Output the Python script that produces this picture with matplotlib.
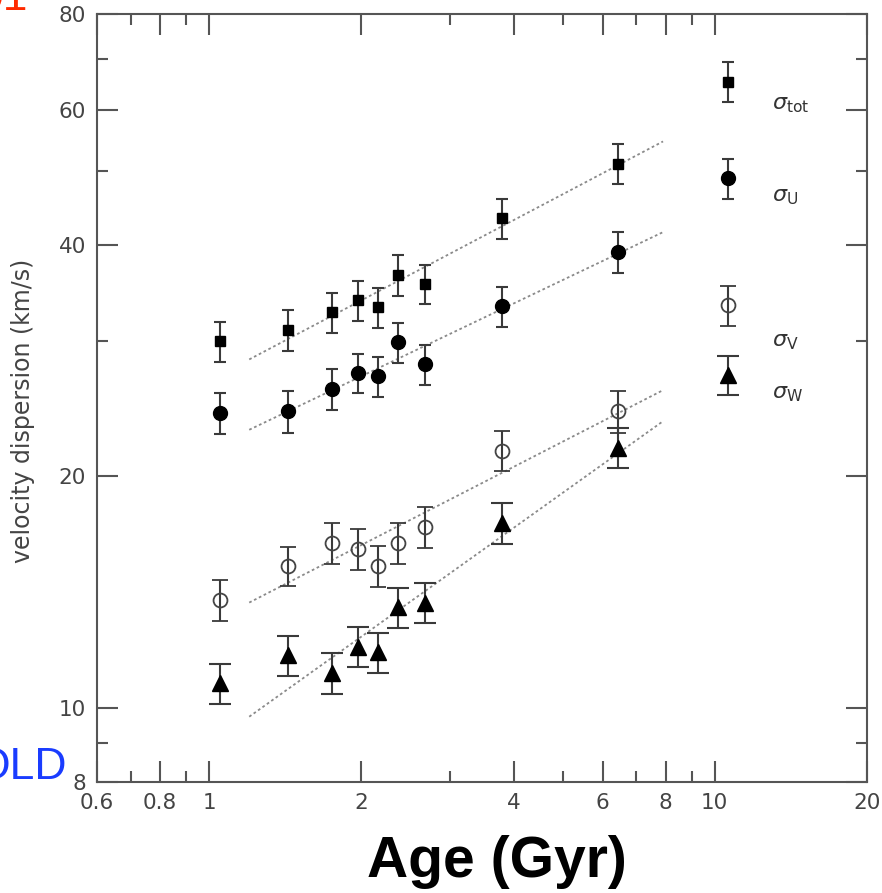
import numpy as np
import matplotlib
matplotlib.use("Agg")
import matplotlib.pyplot as plt
from matplotlib.ticker import FixedLocator, NullFormatter

# ages of the bins (Gyr)
age = [1.05, 1.43, 1.75, 1.97, 2.16, 2.36, 2.67, 3.79, 6.44]

# velocity dispersions (km/s) and their errors
sig_tot = [30.0, 31.0, 32.7, 33.9, 33.2, 36.6, 35.6, 43.4, 51.1]
err_tot = [1.8, 1.9, 2.0, 2.0, 2.0, 2.2, 2.1, 2.6, 3.1]
sig_u = [24.2, 24.3, 26.0, 27.3, 27.0, 29.9, 28.0, 33.3, 39.2]
err_u = [1.5, 1.5, 1.6, 1.6, 1.6, 1.8, 1.7, 2.0, 2.4]
sig_v = [13.8, 15.3, 16.4, 16.1, 15.3, 16.4, 17.2, 21.6, 24.3]
err_v = [0.85, 0.9, 1.0, 1.0, 0.95, 1.0, 1.05, 1.3, 1.5]
sig_w = [10.75, 11.7, 11.1, 12.0, 11.8, 13.5, 13.7, 17.4, 21.8]
err_w = [0.65, 0.7, 0.67, 0.72, 0.71, 0.8, 0.82, 1.05, 1.3]

# power-law fits (end points)
fit_age = [1.2, 7.9]
fit_tot = [28.4, 54.6]
fit_u = [23.0, 41.6]
fit_v = [13.7, 25.9]
fit_w = [9.73, 23.6]

# key symbols on the right
key_age = 10.6
key_val = [65.3, 48.9, 33.4, 27.1]
key_err = [3.9, 2.9, 2.0, 1.6]
key_text_age = 12.95
key_text_val = [60.9, 46.2, 29.9, 25.6]
key_labels = [r'$\sigma_{\rm tot}$', r'$\sigma_{\rm U}$', r'$\sigma_{\rm V}$', r'$\sigma_{\rm W}$']

xticks = [0.6, 0.8, 1, 2, 4, 6, 8, 10, 20]
xminor = [0.7, 0.9, 3, 5, 7, 9]
yticks = [8, 10, 20, 40, 60, 80]
yminor = [9, 30, 50, 70]

fig = plt.figure(figsize=(8.82, 8.93), dpi=100)
ax = fig.add_axes([0.110, 0.1243, 0.873, 0.860])
ax.set_xscale('log')
ax.set_yscale('log')
ax.set_xlim(0.6, 20)
ax.set_ylim(8, 80)

ebc = '#3a3a3a'
styles = [
    dict(marker='s', ms=6.5, mfc='black', mec='black', capsize=4.5),
    dict(marker='o', ms=10, mfc='black', mec='black', capsize=4.5),
    dict(marker='o', ms=10, mfc='none', mec='#444444', mew=1.3, capsize=6),
    dict(marker='^', ms=11, mfc='black', mec='black', capsize=8),
]
series = [(sig_tot, err_tot, fit_tot), (sig_u, err_u, fit_u),
          (sig_v, err_v, fit_v), (sig_w, err_w, fit_w)]

for (vals, errs, fit), st in zip(series, styles):
    ax.errorbar(age, vals, yerr=errs, ls='none', ecolor=ebc, elinewidth=1.5,
                capthick=1.5, zorder=3, **st)
    ax.plot(fit_age, fit, ls=(0, (1.5, 1.5)), color='#8a8a8a', lw=1.3, zorder=2)

for v, e, st in zip(key_val, key_err, styles):
    ax.errorbar([key_age], [v], yerr=[e], ls='none', ecolor=ebc, elinewidth=1.5,
                capthick=1.5, zorder=3, **st)

for v, lab in zip(key_text_val, key_labels):
    ax.text(key_text_age, v, lab, fontsize=16, color='#333333', va='center', ha='left')

ax.xaxis.set_major_locator(FixedLocator(xticks))
ax.xaxis.set_minor_locator(FixedLocator(xminor))
ax.yaxis.set_major_locator(FixedLocator(yticks))
ax.yaxis.set_minor_locator(FixedLocator(yminor))
ax.set_xticklabels([str(t) for t in xticks])
ax.set_yticklabels([str(t) for t in yticks])
ax.xaxis.set_minor_formatter(NullFormatter())
ax.yaxis.set_minor_formatter(NullFormatter())

ax.tick_params(which='both', direction='in', top=True, right=True,
               color='#555555', width=1.5, labelsize=15.5, labelcolor='#444444')
ax.tick_params(which='major', length=15, pad=8)
ax.tick_params(which='minor', length=8)
for sp in ax.spines.values():
    sp.set_color('#555555')
    sp.set_linewidth(1.5)

ax.set_ylabel('velocity dispersion (km/s)', fontsize=17, color='#444444')
ax.yaxis.set_label_coords(-0.080, 0.483)

fig.text(497 / 882, 1 - 862 / 893, 'Age (Gyr)', fontsize=41, fontweight='bold',
         family='Liberation Sans', ha='center', va='center', color='black')
fig.text(67 / 882, 1 - 779 / 893, 'OLD', fontsize=32, family='Liberation Sans',
         color='#1a3cff', ha='right', va='baseline')
fig.text(28 / 882, 1 - 10 / 893, '01', fontsize=32, family='Liberation Sans',
         color='#ff2a00', ha='right', va='baseline')

fig.savefig('out.png', dpi=100)
